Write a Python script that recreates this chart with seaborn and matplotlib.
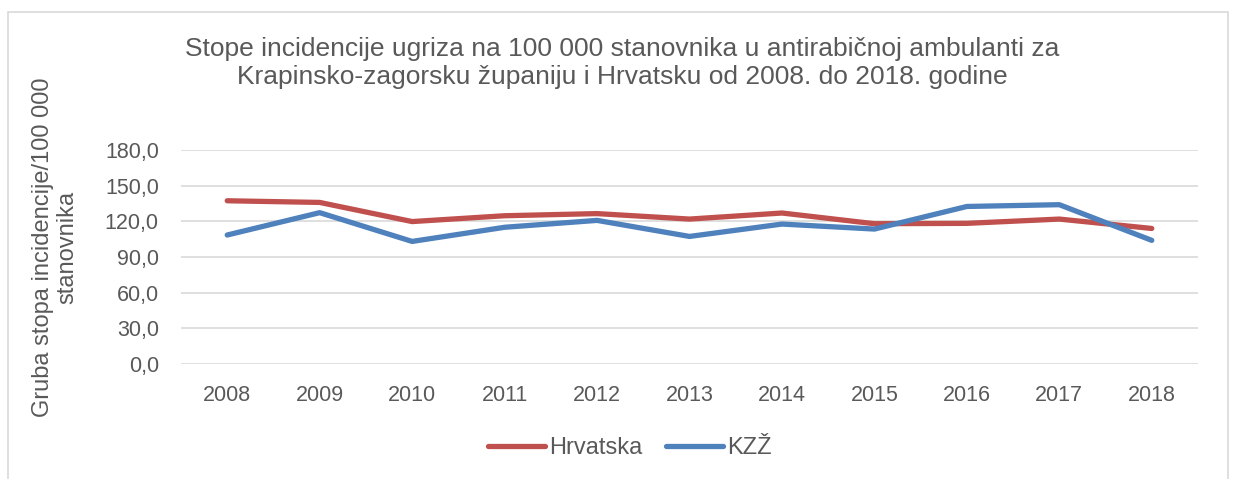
import matplotlib
matplotlib.use("Agg")
import matplotlib.pyplot as plt
import seaborn as sns
import pandas as pd
from matplotlib.patches import Rectangle
from matplotlib.ticker import FuncFormatter
from matplotlib.lines import Line2D

years = ["2008", "2009", "2010", "2011", "2012", "2013", "2014", "2015", "2016", "2017", "2018"]
hrvatska = [137.3, 135.9, 119.8, 124.7, 126.5, 121.9, 127.0, 118.0, 118.3, 121.9, 114.0]
kzz = [108.5, 127.3, 103.1, 115.0, 120.8, 107.3, 117.7, 113.5, 132.5, 134.0, 104.0]
series_names = ["Hrvatska", "KZŽ"]
colors = ["#C0504D", "#4F81BD"]

title = "Stope incidencije ugriza na 100 000 stanovnika u antirabičnoj ambulanti za\nKrapinsko-zagorsku županiju i Hrvatsku od 2008. do 2018. godine"
ylabel = "Gruba stopa incidencije/100 000\nstanovnika"

sns.set_theme(style="white")
plt.rcParams['font.family'] = ['Liberation Sans', 'DejaVu Sans']
text_color = "#595959"

df = pd.DataFrame({
    "year": list(range(len(years))) * 2,
    "value": hrvatska + kzz,
    "series": [series_names[0]] * len(years) + [series_names[1]] * len(years),
})

fig = plt.figure(figsize=(12.38, 4.79), dpi=100)
ax = fig.add_axes([181 / 1238, 1 - 364 / 479, (1198 - 181) / 1238, (364 - 150) / 479])

sns.lineplot(data=df, x="year", y="value", hue="series", palette=colors,
             linewidth=3.8, ax=ax, legend=False, solid_capstyle="round")

ax.set_xlim(-0.5, len(years) - 0.5)
ax.set_ylim(0, 180)
ax.set_yticks([0, 30, 60, 90, 120, 150, 180])
ax.yaxis.set_major_formatter(FuncFormatter(lambda v, p: f"{v:.1f}".replace(".", ",")))
ax.set_xticks(range(len(years)))
ax.set_xticklabels(years)
ax.grid(axis="y", color="#D9D9D9", linewidth=1.2)
ax.set_axisbelow(True)
for s in ax.spines.values():
    s.set_visible(False)
ax.tick_params(axis="both", colors=text_color, labelsize=15.5, length=0)
ax.tick_params(axis="x", pad=15)
ax.tick_params(axis="y", pad=16)
ax.set_xlabel("")
ax.set_ylabel("")

fig.text(55 / 1238, 1 - 247 / 479, ylabel, rotation=90, ha="center", va="center",
         fontsize=17, color=text_color, linespacing=1.12)
fig.text(622 / 1238, 1 - 63 / 479, title, ha="center", va="center",
         fontsize=19, color=text_color, linespacing=1.22)

handles = [Line2D([0], [0], color=c, linewidth=3.8, solid_capstyle="round") for c in colors]
leg = fig.legend(handles, series_names, loc="center", bbox_to_anchor=(630 / 1238, 1 - 448 / 479),
                 ncol=2, frameon=False, fontsize=17, handlelength=2.4, handletextpad=0.2,
                 columnspacing=1.0, labelcolor=text_color)

fig.patches.append(Rectangle((8 / 1238, -0.01), (1228 - 8) / 1238, 1 - 12 / 479 + 0.01,
                             transform=fig.transFigure, fill=False, edgecolor="#D9D9D9",
                             linewidth=1.2))

fig.savefig("out.png", dpi=100, facecolor="white")
